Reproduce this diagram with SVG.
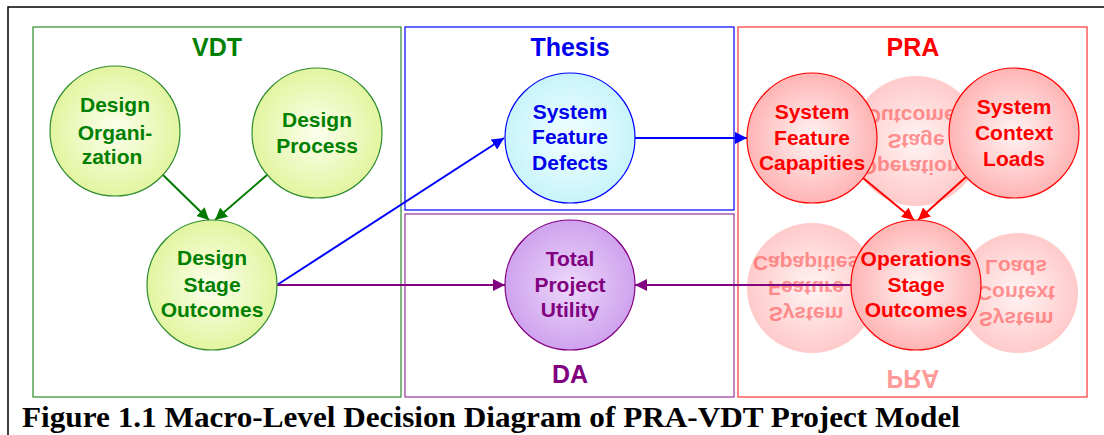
<svg xmlns="http://www.w3.org/2000/svg" width="1104" height="435" viewBox="0 0 1104 435">
<defs>
<radialGradient id="gGreen" cx="50%" cy="50%" r="50%"><stop offset="0" stop-color="#fcffee"/><stop offset="1" stop-color="#e2f5a0"/></radialGradient>
<radialGradient id="gBlue" cx="50%" cy="50%" r="50%"><stop offset="0" stop-color="#f2ffff"/><stop offset="1" stop-color="#c8f4fb"/></radialGradient>
<radialGradient id="gPurple" cx="50%" cy="50%" r="50%"><stop offset="0" stop-color="#ecd8fa"/><stop offset="1" stop-color="#cfa2ee"/></radialGradient>
<radialGradient id="gRed" cx="50%" cy="50%" r="50%"><stop offset="0" stop-color="#fff4f4"/><stop offset="1" stop-color="#ffb4b4"/></radialGradient>
<radialGradient id="gGhost" cx="50%" cy="50%" r="50%"><stop offset="0" stop-color="#fff4f4"/><stop offset="1" stop-color="#ffcaca"/></radialGradient>
<marker id="aGreen" viewBox="0 0 12 12" refX="12" refY="6" markerWidth="12" markerHeight="12" markerUnits="userSpaceOnUse" orient="auto"><path d="M0,0 L12,6 L0,12 z" fill="#007a00"/></marker>
<marker id="aBlue" viewBox="0 0 12 12" refX="12" refY="6" markerWidth="12" markerHeight="12" markerUnits="userSpaceOnUse" orient="auto"><path d="M0,0 L12,6 L0,12 z" fill="#0000ff"/></marker>
<marker id="aPurple" viewBox="0 0 12 12" refX="12" refY="6" markerWidth="12" markerHeight="12" markerUnits="userSpaceOnUse" orient="auto"><path d="M0,0 L12,6 L0,12 z" fill="#800080"/></marker>
<marker id="aRed" viewBox="0 0 12 12" refX="12" refY="6" markerWidth="12" markerHeight="12" markerUnits="userSpaceOnUse" orient="auto"><path d="M0,0 L12,6 L0,12 z" fill="#ff0000"/></marker>
</defs>
<style>
text{font-family:"Liberation Sans",Arial,sans-serif;font-weight:bold;text-anchor:middle}
.title{font-size:25px}
.lbl{font-size:21px}
.box{fill:none;stroke-width:1.2}
.cap{font-family:"Liberation Serif","Times New Roman",serif;font-size:30px;text-anchor:start;fill:#000}
.green{fill:#008000}.blue{fill:#0000ee}.purple{fill:#800080}.red{fill:#ff0000}
.ghost text{fill:#ff3838;opacity:0.5}
</style>
<rect width="1104" height="435" fill="#fff"/>
<path d="M8,435 V7 H1104" fill="none" stroke="#000" stroke-width="1.5"/>

<g id="frames">
<rect class="box" x="33" y="27" width="368" height="370" stroke="#2e8b2e"/>
<rect class="box" x="405" y="27" width="329" height="183" stroke="#0000ff"/>
<rect class="box" x="405" y="214" width="329" height="183" stroke="#993399"/>
<rect class="box" x="738" y="27" width="349" height="370" stroke="#ff3333"/>
<text class="title green" x="217" y="56">VDT</text>
<text class="title blue" x="570" y="56">Thesis</text>
<text class="title red" x="913" y="56">PRA</text>
<text class="title purple" x="570" y="383">DA</text>
</g>

<g class="ghost" transform="translate(0,426) scale(1,-1)">
<circle cx="812" cy="138" r="65" fill="url(#gGhost)"/>
<circle cx="1018" cy="133" r="60" fill="url(#gGhost)"/>
<circle cx="916" cy="285" r="65" fill="url(#gGhost)"/>
<text class="lbl" x="806" y="119">System</text>
<text class="lbl" x="806" y="145">Feature</text>
<text class="lbl" x="806" y="170">Capapities</text>
<text class="lbl" x="1016" y="114">System</text>
<text class="lbl" x="1016" y="140">Context</text>
<text class="lbl" x="1016" y="166">Loads</text>
<text class="lbl" x="916" y="266">Operations</text>
<text class="lbl" x="916" y="292">Stage</text>
<text class="lbl" x="916" y="317">Outcomes</text>
<text class="title" x="913" y="56">PRA</text>
</g>

<g id="connectors" fill="none" stroke-width="2">
<line x1="162" y1="174" x2="209" y2="220" stroke="#007a00" marker-end="url(#aGreen)"/>
<line x1="267" y1="175" x2="215" y2="220" stroke="#007a00" marker-end="url(#aGreen)"/>
<line x1="277" y1="285" x2="504" y2="138" stroke="#0000ff" marker-end="url(#aBlue)"/>
<line x1="635" y1="138" x2="747" y2="138" stroke="#0000ff" marker-end="url(#aBlue)"/>
<line x1="277" y1="285" x2="505" y2="285" stroke="#800080" marker-end="url(#aPurple)"/>
<line x1="851" y1="285" x2="635" y2="285" stroke="#800080" marker-end="url(#aPurple)"/>
<line x1="863" y1="178" x2="914" y2="220" stroke="#ff0000" marker-end="url(#aRed)"/>
<line x1="966" y1="177" x2="918" y2="220" stroke="#ff0000" marker-end="url(#aRed)"/>
</g>

<g id="design-organization">
<circle cx="115" cy="131" r="65" fill="url(#gGreen)" stroke="#2e8b2e" stroke-width="1.2"/>
<text class="lbl green" x="115" y="112">Design</text>
<text class="lbl green" x="115" y="140">Organi-</text>
<text class="lbl green" x="112" y="164">zation</text>
</g>
<g id="design-process">
<circle cx="317" cy="133" r="65" fill="url(#gGreen)" stroke="#2e8b2e" stroke-width="1.2"/>
<text class="lbl green" x="317" y="127">Design</text>
<text class="lbl green" x="317" y="153">Process</text>
</g>
<g id="design-stage-outcomes">
<circle cx="212" cy="285" r="65" fill="url(#gGreen)" stroke="#2e8b2e" stroke-width="1.2"/>
<text class="lbl green" x="212" y="265">Design</text>
<text class="lbl green" x="212" y="292">Stage</text>
<text class="lbl green" x="212" y="317">Outcomes</text>
</g>
<g id="system-feature-defects">
<circle cx="570" cy="138" r="65" fill="url(#gBlue)" stroke="#0000ff" stroke-width="1.2"/>
<text class="lbl blue" x="570" y="119">System</text>
<text class="lbl blue" x="570" y="144">Feature</text>
<text class="lbl blue" x="570" y="170">Defects</text>
</g>
<g id="total-project-utility">
<circle cx="570" cy="285" r="65" fill="url(#gPurple)" stroke="#800080" stroke-width="1.2"/>
<text class="lbl purple" x="570" y="266">Total</text>
<text class="lbl purple" x="570" y="292">Project</text>
<text class="lbl purple" x="570" y="317">Utility</text>
</g>
<g id="system-feature-capacities">
<circle cx="812" cy="138" r="65" fill="url(#gRed)" stroke="#ff0000" stroke-width="1.2"/>
<text class="lbl red" x="812" y="119">System</text>
<text class="lbl red" x="812" y="145">Feature</text>
<text class="lbl red" x="812" y="170">Capapities</text>
</g>
<g id="system-context-loads">
<circle cx="1014" cy="133" r="65" fill="url(#gRed)" stroke="#ff0000" stroke-width="1.2"/>
<text class="lbl red" x="1014" y="114">System</text>
<text class="lbl red" x="1014" y="140">Context</text>
<text class="lbl red" x="1014" y="166">Loads</text>
</g>
<g id="operations-stage-outcomes">
<circle cx="916" cy="285" r="65" fill="url(#gRed)" stroke="#ff0000" stroke-width="1.2"/>
<text class="lbl red" x="916" y="266">Operations</text>
<text class="lbl red" x="916" y="292">Stage</text>
<text class="lbl red" x="916" y="317">Outcomes</text>
</g>

<text class="cap" x="22" y="427" textLength="938" lengthAdjust="spacingAndGlyphs">Figure 1.1 Macro-Level Decision Diagram of PRA-VDT Project Model</text>
</svg>
